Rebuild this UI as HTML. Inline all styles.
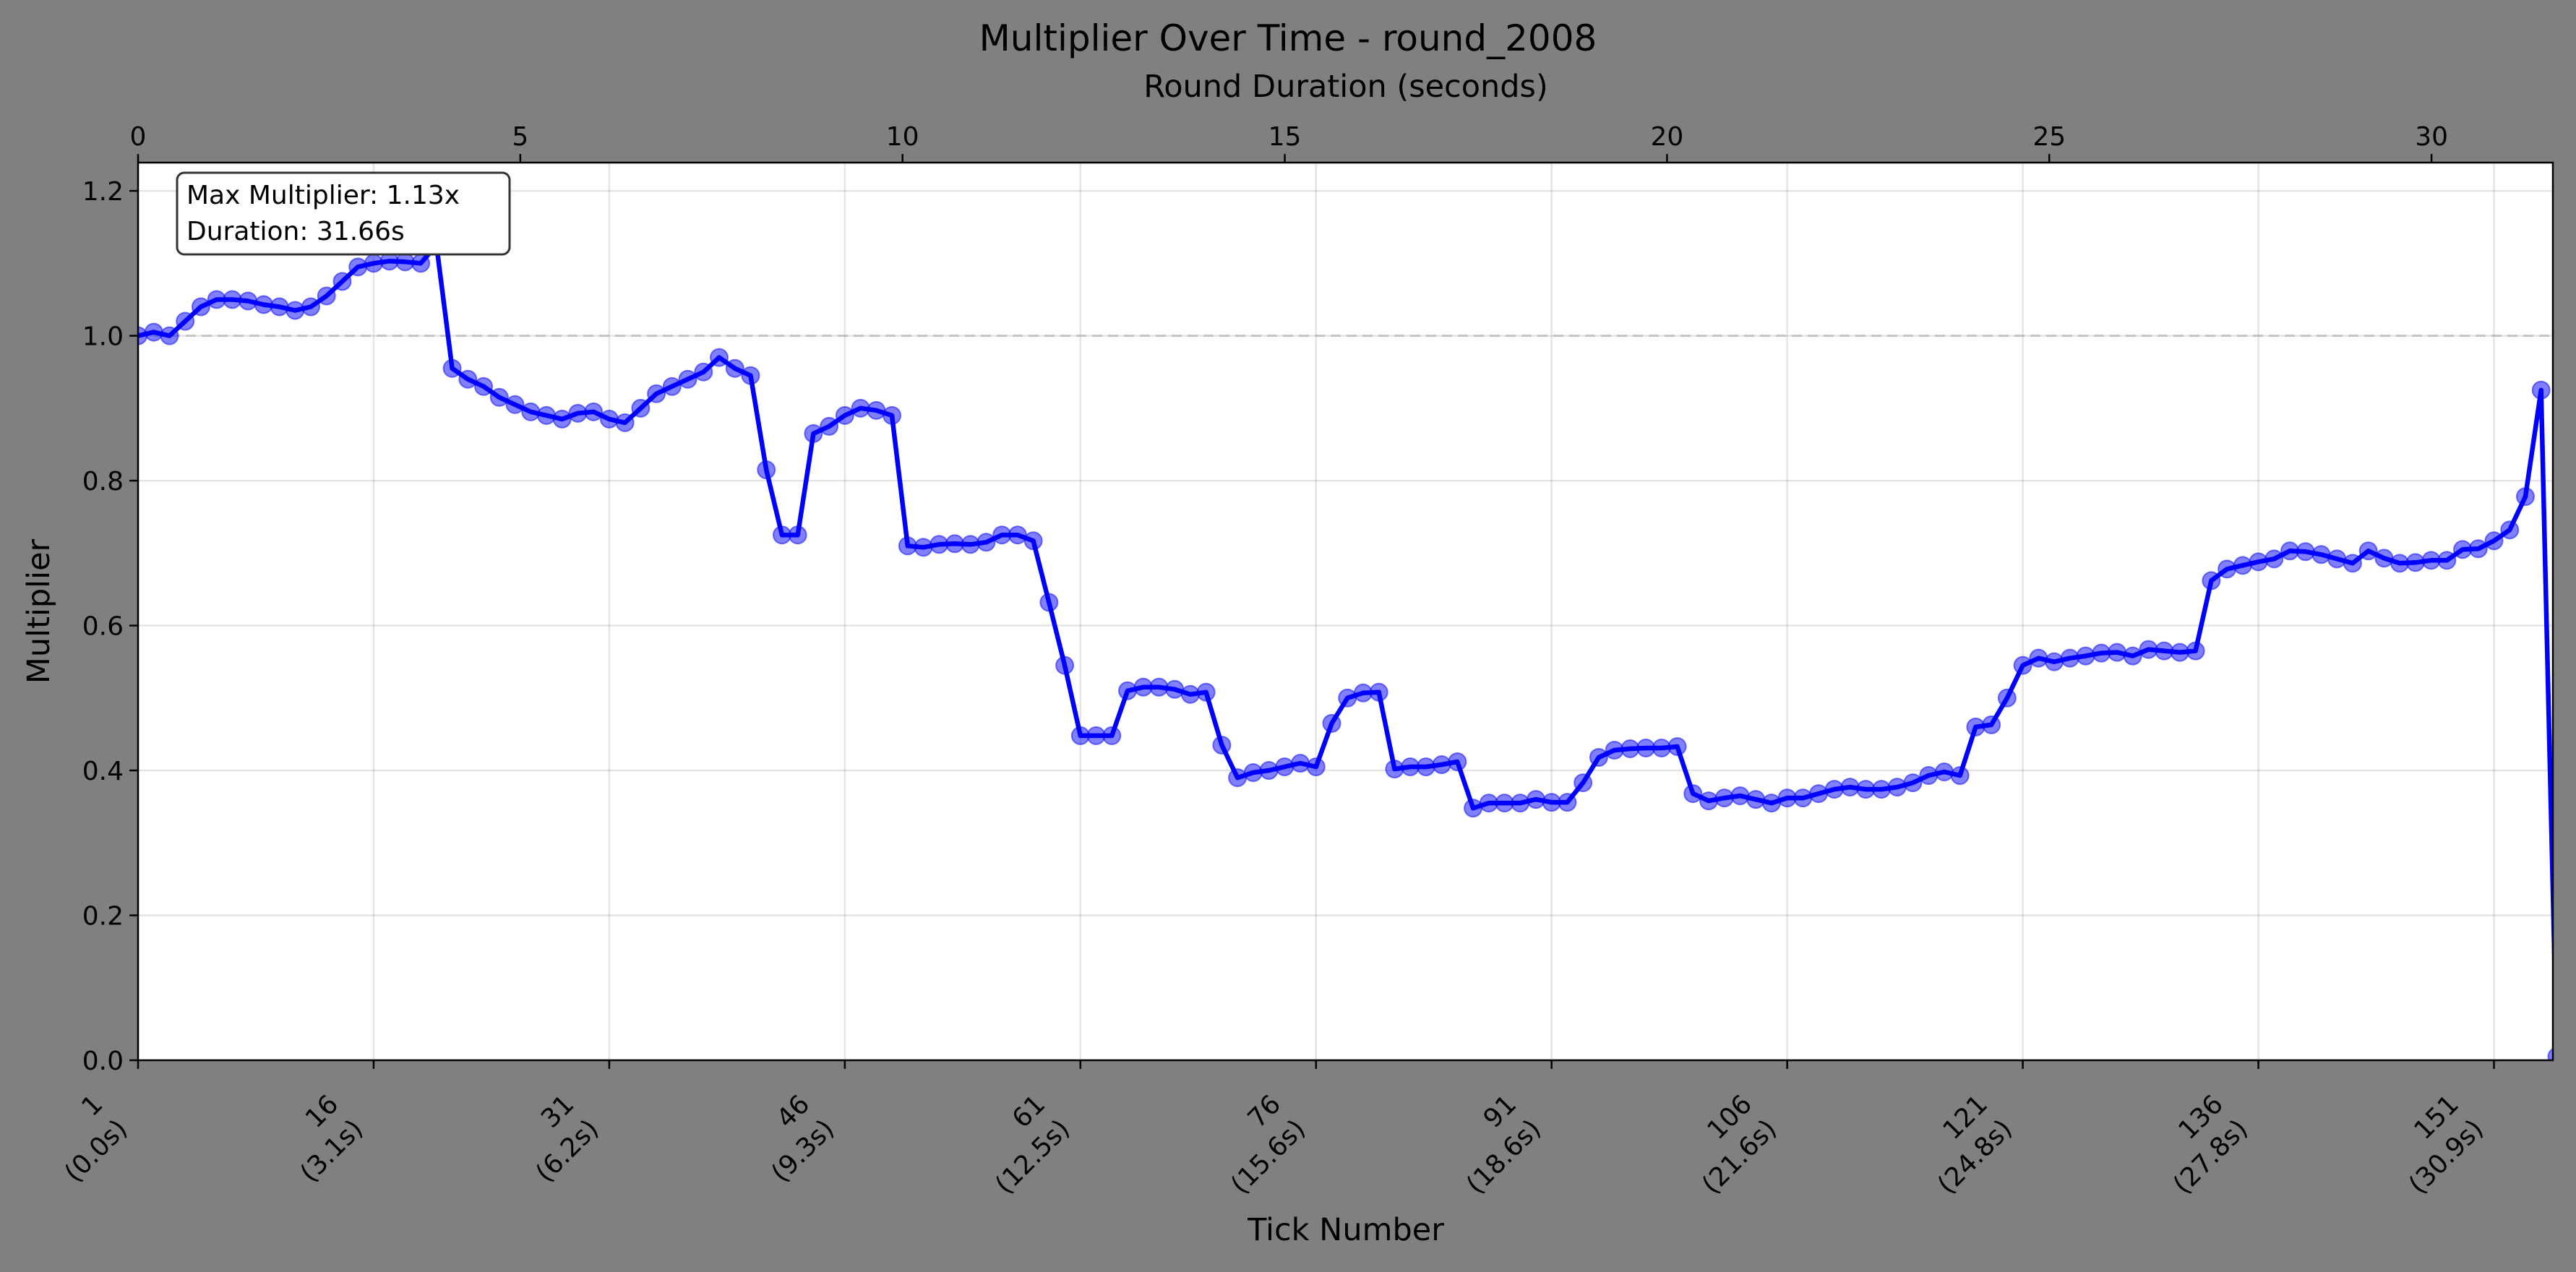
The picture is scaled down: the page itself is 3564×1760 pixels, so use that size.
<!DOCTYPE html>
<html><head><meta charset="utf-8"><style>
html,body{margin:0;padding:0;background:#808080;}
svg{display:block;font-family:"DejaVu Sans","Liberation Sans",sans-serif;}
</style></head><body>
<svg id="chart" width="3564" height="1760" viewBox="0 0 3564 1760">
<rect x="0" y="0" width="3564" height="1760" fill="#808080"/>
<rect x="191" y="225" width="3341" height="1242" fill="#ffffff"/>
<g id="grid"></g>
<g id="series"></g>
<rect x="191" y="225" width="3341" height="1242" fill="none" stroke="#000" stroke-width="2.5"/>
<g id="axes"></g>
<text x="1782" y="70" font-size="50" text-anchor="middle" fill="#000">Multiplier Over Time - round_2008</text>
<text x="1862" y="134" font-size="43" text-anchor="middle" fill="#000">Round Duration (seconds)</text>
<text x="1862" y="1716" font-size="43" text-anchor="middle" fill="#000">Tick Number</text>
<text transform="translate(68,846) rotate(-90)" font-size="43" text-anchor="middle" fill="#000">Multiplier</text>
<g>
<rect x="245" y="239" width="460" height="113" rx="10" fill="#fff" stroke="#333" stroke-width="3"/>
<text x="258" y="282" font-size="36" fill="#000">Max Multiplier: 1.13x</text>
<text x="258" y="332" font-size="36" fill="#000">Duration: 31.66s</text>
</g>
</svg>
<script>
const ticks = [];
for (let i = 1; i <= 155; i++) ticks.push(i);
const multipliers = [1.00,1.005,1.00,1.02,1.04,1.05,1.05,1.048,1.043,1.04,1.035,1.04,1.055,1.075,1.095,1.10,1.103,1.102,1.10,1.125,
0.955,0.94,0.93,0.915,0.905,0.895,0.89,0.885,0.893,0.895,0.885,0.88,0.90,0.92,0.93,0.94,0.95,0.97,0.955,0.945,
0.815,0.725,0.725,0.865,0.875,0.89,0.90,0.897,0.89,0.71,0.708,0.712,0.713,0.712,0.715,0.725,0.725,0.717,0.632,0.545,
0.448,0.448,0.448,0.51,0.515,0.515,0.512,0.505,0.508,0.435,0.39,0.397,0.40,0.405,0.41,0.405,0.465,0.50,0.507,0.508,
0.402,0.405,0.405,0.408,0.412,0.348,0.355,0.355,0.355,0.36,0.356,0.356,0.383,0.418,0.428,0.43,0.431,0.431,0.433,0.368,
0.358,0.362,0.365,0.36,0.355,0.362,0.362,0.368,0.374,0.377,0.374,0.374,0.377,0.383,0.393,0.398,0.393,0.46,0.463,0.50,
0.545,0.555,0.55,0.555,0.558,0.562,0.563,0.558,0.567,0.565,0.563,0.565,0.662,0.678,0.683,0.688,0.692,0.703,0.702,0.698,
0.692,0.686,0.703,0.693,0.686,0.687,0.69,0.69,0.705,0.706,0.717,0.732,0.778,0.925,0.005];
const xTickValues = [1,16,31,46,61,76,91,106,121,136,151];
const xTickTimes = ["(0.0s)","(3.1s)","(6.2s)","(9.3s)","(12.5s)","(15.6s)","(18.6s)","(21.6s)","(24.8s)","(27.8s)","(30.9s)"];
const yTickValues = [0.0,0.2,0.4,0.6,0.8,1.0,1.2];
const topTickValues = [0,5,10,15,20,25,30];

const NS = "http://www.w3.org/2000/svg";
const L = 191, R = 3532, T = 225, B = 1467;
const xMin = 1, xMax = 154.75, yMin = 0, yMax = 1.239;
const sx = v => L + (v - xMin) / (xMax - xMin) * (R - L);
const sy = v => B - (v - yMin) / (yMax - yMin) * (B - T);
const st = s => L + s * 105.77;
function mk(tag, attrs, parent) {
  const el = document.createElementNS(NS, tag);
  for (const k in attrs) el.setAttribute(k, attrs[k]);
  parent.appendChild(el);
  return el;
}
const grid = document.getElementById('grid');
const axes = document.getElementById('axes');
const series = document.getElementById('series');

xTickValues.forEach((v, i) => {
  const x = sx(v);
  const g = mk('line', {x1:x, x2:x, y1:T, y2:B, stroke:'#000', 'stroke-opacity':0.1, 'stroke-width':2.5}, grid);
  
  
  const tk = mk('line', {x1:x, x2:x, y1:B, y2:B+12, stroke:'#000', 'stroke-width':2.5}, axes);
  
  
  const grp = mk('g', {transform:`translate(${x-13},${B+97}) rotate(-45)`}, axes);
  
  
  const t2 = mk('text', {x:0, y:0, 'font-size':36, 'text-anchor':'end', fill:'#000'}, grp);
  t2.textContent = xTickTimes[i];
  const t1 = mk('text', {x:0, y:-48, 'font-size':36, 'text-anchor':'end', fill:'#000'}, grp);
  t1.textContent = String(v);
});
yTickValues.forEach(v => {
  const y = sy(v);
  const g = mk('line', {x1:L, x2:R, y1:y, y2:y, stroke:'#000', 'stroke-opacity':0.1, 'stroke-width':2.5}, grid);
  
  
  const tk = mk('line', {x1:L-12, x2:L, y1:y, y2:y, stroke:'#000', 'stroke-width':2.5}, axes);
  
  
  const t = mk('text', {x:L-20, y:y+13, 'font-size':36, 'text-anchor':'end', fill:'#000'}, axes);
  
  
  t.textContent = v.toFixed(1);
});
topTickValues.forEach(v => {
  const x = st(v);
  const tk = mk('line', {x1:x, x2:x, y1:T-12, y2:T, stroke:'#000', 'stroke-width':2.5}, axes);
  
  
  const t = mk('text', {x:x, y:T-24, 'font-size':36, 'text-anchor':'middle', fill:'#000'}, axes);
  
  
  t.textContent = String(v);
});
const ref = mk('line', {x1:L, x2:R, y1:sy(1.0), y2:sy(1.0), stroke:'#aaa', 'stroke-opacity':0.6, 'stroke-width':3, 'stroke-dasharray':'14 8'}, grid);



const clip = mk('clipPath', {id:'pc'}, series);
mk('rect', {x:L, y:T, width:R-L, height:B-T}, clip);
const sg = mk('g', {'clip-path':'url(#pc)'}, series);
const pts = ticks.map((t, i) => sx(t).toFixed(1) + ',' + sy(multipliers[i]).toFixed(1)).join(' ');
const line = mk('polyline', {points:pts, fill:'none', stroke:'#0000ff', 'stroke-width':6.5, 'stroke-linejoin':'round'}, sg);


ticks.forEach((t, i) => {
  const c = mk('circle', {cx:sx(t), cy:sy(multipliers[i]), r:12, fill:'#0000ff', 'fill-opacity':0.5, stroke:'#0000ff', 'stroke-opacity':0.5, 'stroke-width':2}, sg);
  
  
});
</script>
</body></html>
